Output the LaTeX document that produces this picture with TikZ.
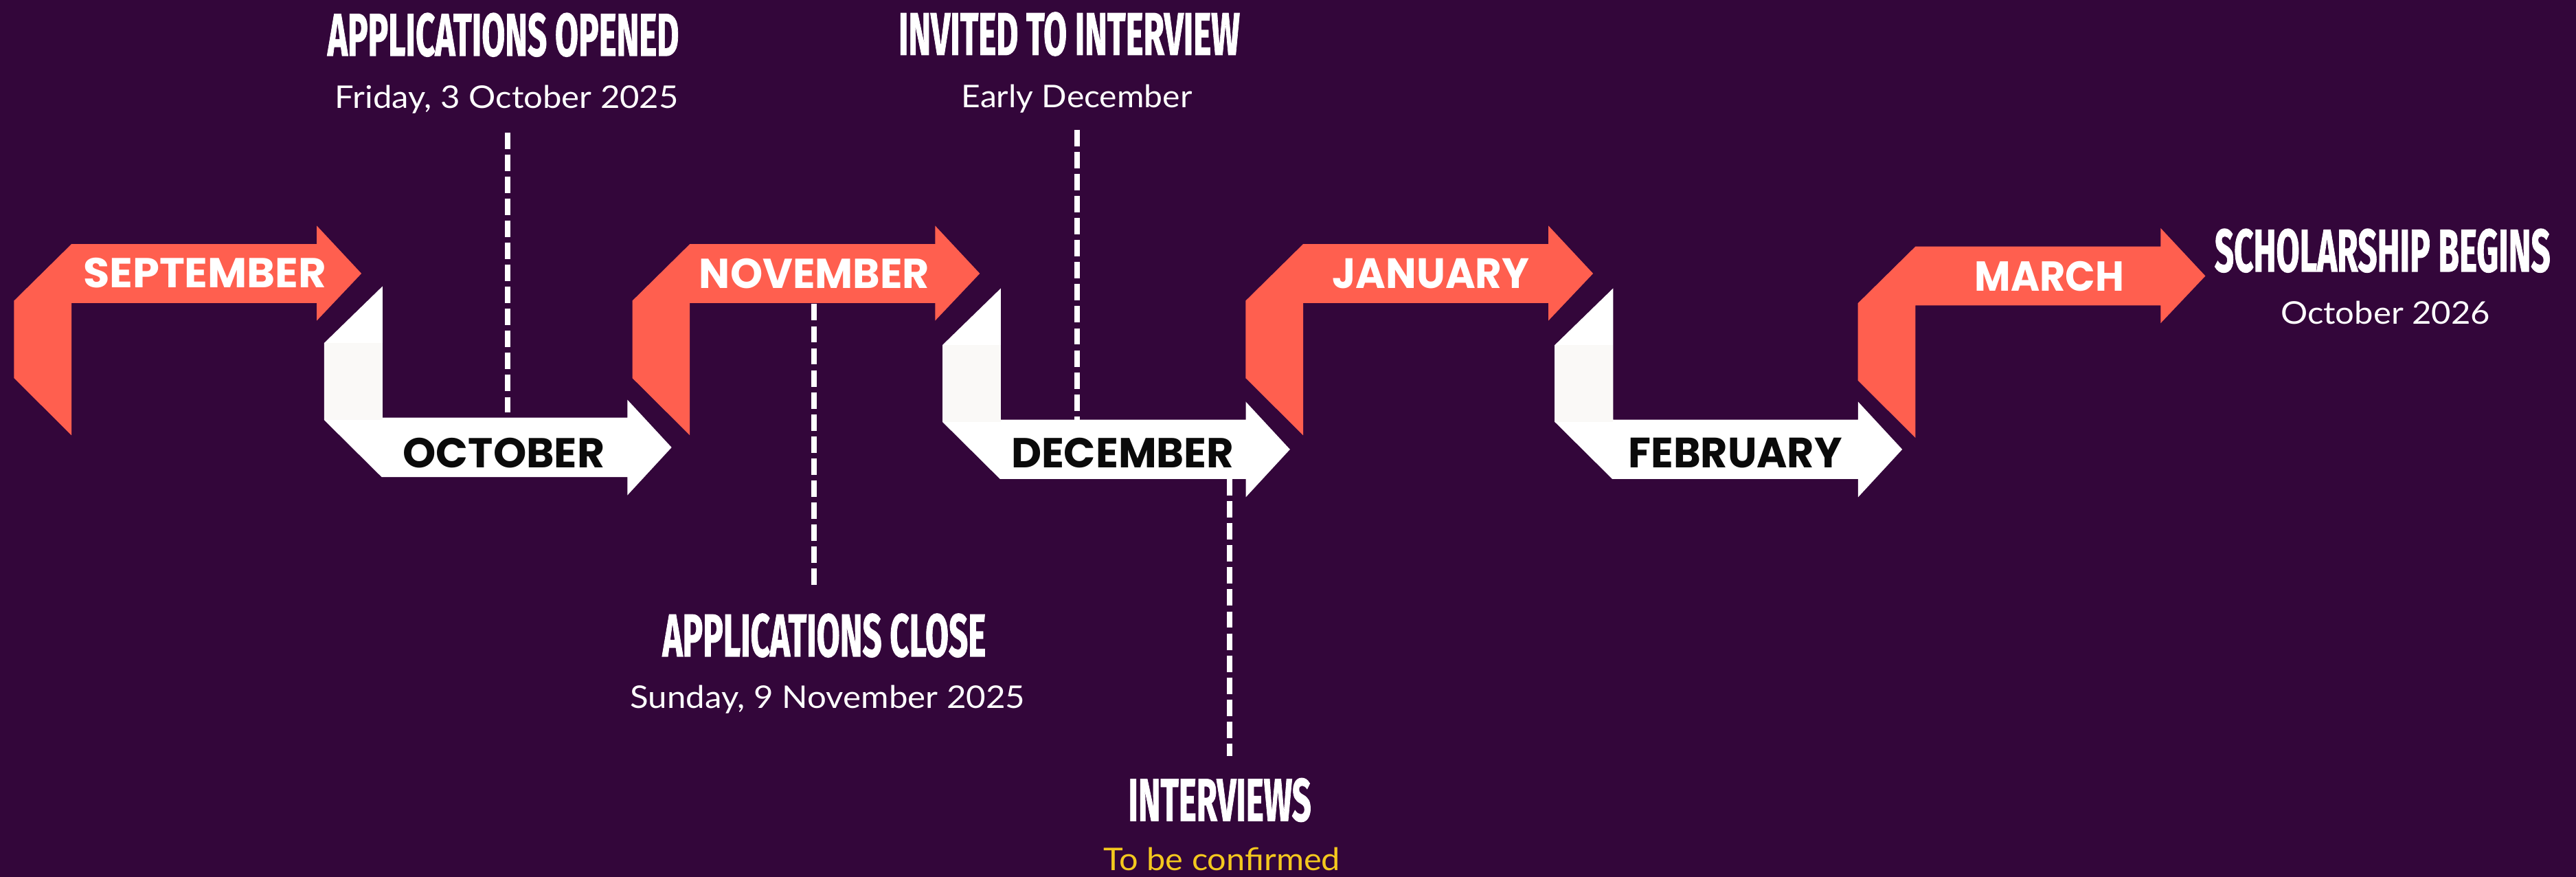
\documentclass[tikz,border=0pt]{standalone}
\usepackage{fontspec}
\usepackage{graphicx}
\setmainfont{Lato}
\newfontfamily\headfont[FakeBold=1.4]{Fira Sans}
\newfontfamily\monthfont{Poppins}
\newfontfamily\datefont{Lato}
\newlength\pxu \setlength\pxu{0.01cm}
\definecolor{bgpurple}{HTML}{33063A}
\definecolor{coral}{HTML}{FF5F4F}
\definecolor{offwhite}{HTML}{FAF9F7}
\definecolor{tbcyellow}{HTML}{F4C81E}
\definecolor{nearblack}{HTML}{0A0A0A}
\tikzset{
  lbl/.style={inner sep=0pt, outer sep=0pt},
  guide/.style={draw=white, line width=0.95pt, dash pattern=on 0.1cm off 0.034cm},
}
\newcommand{\coralpiece}[2]{%
  \fill[coral] ({#1+35},{148.5+#2}) -- ({#1+184.3},{148.5+#2}) -- ({#1+184.3},{137.3+#2})
    -- ({#1+211.5},{166.4+#2}) -- ({#1+184.3},{195.1+#2}) -- ({#1+184.3},{184.3+#2})
    -- ({#1+35},{184.3+#2}) -- ({#1+35},{264.8+#2}) -- ({#1},{230+#2}) -- ({#1},{183+#2}) -- cycle;}
\newcommand{\whitepiece}[2]{%
  \fill[white] ({#1+35.5},{174.2+#2}) -- ({#1+35.5},{254.1+#2}) -- ({#1+184.6},{254.1+#2})
    -- ({#1+184.6},{243.2+#2}) -- ({#1+211.5},{272.2+#2}) -- ({#1+184.6},{301.3+#2})
    -- ({#1+184.6},{290.2+#2}) -- ({#1+35},{290.2+#2}) -- ({#1},{255.5+#2}) -- ({#1},{208.7+#2}) -- cycle;
  \fill[offwhite] ({#1},{208.7+#2}) rectangle ({#1+35.5},{255.5+#2});}
\newcommand{\hdtext}[2]{\resizebox{#1\pxu}{26\pxu}{\headfont\bfseries #2}}
\newcommand{\mtext}[2]{\resizebox{#1\pxu}{18.1\pxu}{\monthfont\bfseries #2}}
\newcommand{\dtext}[2]{\resizebox{#1\pxu}{\height}{\datefont\fontsize{5.4pt}{6pt}\selectfont #2}}
\begin{document}
\begin{tikzpicture}[x=0.01cm, y=-0.01cm]
\useasboundingbox (0,0) rectangle (1568,533.5);
\fill[bgpurple] (0,0) rectangle (1568,533.5);
% ribbon pieces
\coralpiece{8.5}{0}
\whitepiece{197.3}{0}
\coralpiece{384.9}{0}
\whitepiece{573.7}{1.2}
\coralpiece{758.2}{0}
\whitepiece{946.4}{1.2}
\coralpiece{1130.9}{1.5}
% month labels
\node[lbl, anchor=base west, text=white] (sep) at (50.7,175) {\mtext{148}{SEPTEMBER}};
\node[lbl, anchor=base west, text=nearblack] (oct) at (245.3,284.5) {\mtext{122.7}{OCTOBER}};
\node[lbl, anchor=base west, text=white] (nov) at (425.6,175.3) {\mtext{140.1}{NOVEMBER}};
\node[lbl, anchor=base west, text=nearblack] (dec) at (615.5,284.7) {\mtext{135.5}{DECEMBER}};
\node[lbl, anchor=base west, text=white] (jan) at (811,175.3) {\mtext{120}{JANUARY}};
\node[lbl, anchor=base west, text=nearblack] (feb) at (991.2,284.6) {\mtext{130.1}{FEBRUARY}};
\node[lbl, anchor=base west, text=white] (mar) at (1201.9,176.9) {\mtext{91}{MARCH}};
% milestone headings
\node[lbl, anchor=base west, text=white] (aoH) at (199.4,33.9) {\hdtext{213.9}{APPLICATIONS OPENED}};
\node[lbl, anchor=base west, text=white] (itH) at (546.9,33.4) {\hdtext{207.8}{INVITED TO INTERVIEW}};
\node[lbl, anchor=base west, text=white] (acH) at (403.3,399.3) {\hdtext{196.8}{APPLICATIONS CLOSE}};
\node[lbl, anchor=base west, text=white] (ivH) at (686.8,499.4) {\hdtext{111.3}{INTERVIEWS}};
\node[lbl, anchor=base west, text=white] (sbH) at (1348,165.2) {\hdtext{204.4}{SCHOLARSHIP BEGINS}};
% dates
\node[lbl, anchor=base, text=white] (aoD) at (308.5,65.8) {\dtext{209}{Friday, 3 October 2025}};
\node[lbl, anchor=base, text=white] (itD) at (655.4,65.5) {\dtext{140.4}{Early December}};
\node[lbl, anchor=base, text=white] (acD) at (503.8,431) {\dtext{240.2}{Sunday, 9 November 2025}};
\node[lbl, anchor=base, text=tbcyellow] (ivD) at (743.8,529.6) {\dtext{144}{To be confirmed}};
\node[lbl, anchor=base, text=white] (sbD) at (1452,197.2) {\dtext{127.5}{October 2026}};
% dashed guides
\coordinate (g1a) at (308.8,80.6);  \coordinate (g1b) at (308.8,251);
\coordinate (g2a) at (655.8,79);    \coordinate (g2b) at (655.8,255.5);
\coordinate (g3a) at (495.5,185);   \coordinate (g3b) at (495.5,356);
\coordinate (g4a) at (748.5,291.5); \coordinate (g4b) at (748.5,460);
\draw[guide] (g1a) -- (g1b);
\draw[guide] (g2a) -- (g2b);
\draw[guide] (g3a) -- (g3b);
\draw[guide] (g4a) -- (g4b);
\end{tikzpicture}
\end{document}
